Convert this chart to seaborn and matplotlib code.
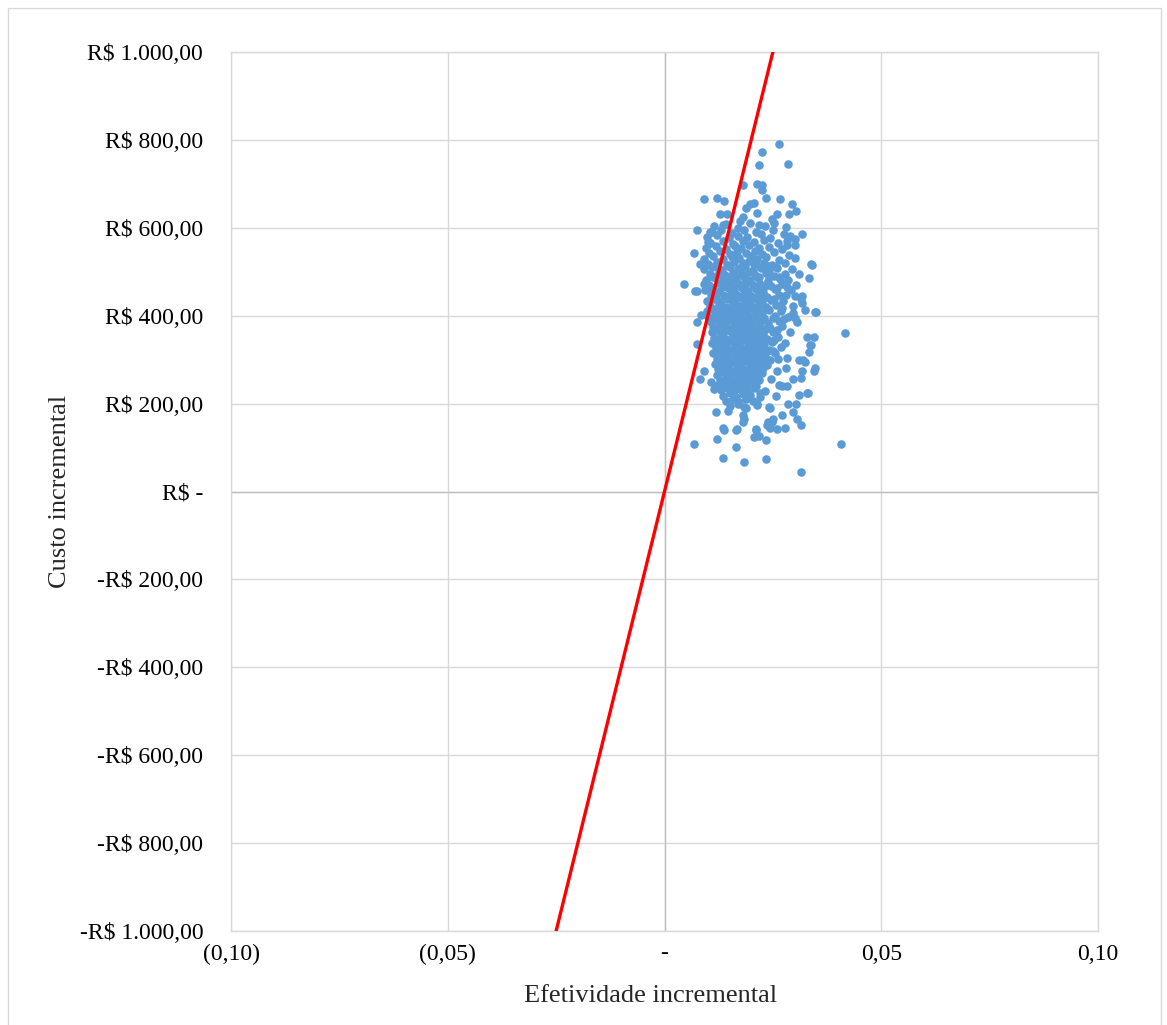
import numpy as np
import pandas as pd
import matplotlib
matplotlib.use("Agg")
import matplotlib.pyplot as plt
from matplotlib.patches import Rectangle
import seaborn as sns

# Simulated incremental pairs (effectiveness in QALY, cost in R$)
efetividade = [
    # core of the cloud
    0.0115, 0.0142, 0.0170, 0.0198, 0.0231,
    0.0109, 0.0130, 0.0156, 0.0184, 0.0212, 0.0250, 0.0276,
    0.0098, 0.0122, 0.0148, 0.0169, 0.0191, 0.0223, 0.0244, 0.0290,
    0.0106, 0.0135, 0.0159, 0.0180, 0.0206, 0.0230, 0.0261, 0.0283,
    0.0095, 0.0118, 0.0141, 0.0163, 0.0177, 0.0195, 0.0218, 0.0240, 0.0270,
    0.0103, 0.0127, 0.0150, 0.0168, 0.0188, 0.0209, 0.0226, 0.0253, 0.0288,
    0.0092, 0.0113, 0.0136, 0.0155, 0.0173, 0.0199, 0.0214, 0.0235, 0.0264, 0.0301,
    0.0100, 0.0121, 0.0144, 0.0161, 0.0181, 0.0194, 0.0210, 0.0229, 0.0248, 0.0277,
    0.0090, 0.0110, 0.0132, 0.0152, 0.0170, 0.0186, 0.0203, 0.0222, 0.0241, 0.0260, 0.0294,
    0.0105, 0.0125, 0.0140, 0.0158, 0.0176, 0.0192, 0.0208, 0.0233, 0.0252, 0.0279, 0.0310,
    0.0096, 0.0116, 0.0134, 0.0149, 0.0165, 0.0183, 0.0197, 0.0215, 0.0238, 0.0267, 0.0286,
    0.0102, 0.0123, 0.0139, 0.0153, 0.0171, 0.0189, 0.0204, 0.0221, 0.0245, 0.0272, 0.0303,
    0.0094, 0.0111, 0.0129, 0.0146, 0.0160, 0.0178, 0.0193, 0.0211, 0.0228, 0.0256, 0.0291,
    0.0108, 0.0120, 0.0137, 0.0154, 0.0167, 0.0185, 0.0200, 0.0217, 0.0236, 0.0263, 0.0280,
    0.0099, 0.0114, 0.0131, 0.0147, 0.0162, 0.0179, 0.0196, 0.0213, 0.0224, 0.0246, 0.0274, 0.0315,
    0.0104, 0.0126, 0.0143, 0.0157, 0.0174, 0.0187, 0.0202, 0.0219, 0.0234, 0.0258, 0.0296,
    0.0097, 0.0119, 0.0133, 0.0148, 0.0164, 0.0182, 0.0190, 0.0207, 0.0225, 0.0242, 0.0268,
    0.0101, 0.0117, 0.0138, 0.0151, 0.0166, 0.0175, 0.0195, 0.0212, 0.0230, 0.0254, 0.0284,
    0.0107, 0.0124, 0.0140, 0.0156, 0.0172, 0.0184, 0.0201, 0.0216, 0.0239, 0.0265, 0.0305,
    0.0112, 0.0128, 0.0145, 0.0160, 0.0177, 0.0191, 0.0205, 0.0220, 0.0243, 0.0271,
    0.0109, 0.0122, 0.0136, 0.0153, 0.0168, 0.0180, 0.0194, 0.0210, 0.0227, 0.0250, 0.0289,
    0.0115, 0.0130, 0.0142, 0.0159, 0.0173, 0.0188, 0.0203, 0.0218, 0.0237, 0.0262,
    0.0110, 0.0125, 0.0139, 0.0155, 0.0169, 0.0183, 0.0198, 0.0214, 0.0229, 0.0247, 0.0278,
    0.0118, 0.0133, 0.0147, 0.0163, 0.0176, 0.0192, 0.0206, 0.0223, 0.0240, 0.0269,
    0.0113, 0.0129, 0.0144, 0.0158, 0.0171, 0.0186, 0.0200, 0.0215, 0.0232, 0.0255,
    0.0121, 0.0135, 0.0150, 0.0165, 0.0179, 0.0195, 0.0211, 0.0226, 0.0244, 0.0282,
    0.0116, 0.0131, 0.0146, 0.0161, 0.0174, 0.0189, 0.0204, 0.0219, 0.0236,
    0.0124, 0.0138, 0.0152, 0.0167, 0.0181, 0.0197, 0.0213, 0.0228, 0.0259,
    0.0120, 0.0134, 0.0149, 0.0164, 0.0178, 0.0193, 0.0208, 0.0224,
    0.0127, 0.0141, 0.0156, 0.0170, 0.0185, 0.0201, 0.0217, 0.0246,
    0.0123, 0.0137, 0.0154, 0.0168, 0.0182, 0.0196, 0.0212,
    0.0130, 0.0145, 0.0160, 0.0175, 0.0190, 0.0207, 0.0231,
    0.0136, 0.0151, 0.0166, 0.0180, 0.0198, 0.0220,
    0.0143, 0.0158, 0.0173, 0.0187, 0.0205,
    0.0150, 0.0169, 0.0184, 0.0214,
    # densest band of the cloud
    0.0118, 0.0147, 0.0177, 0.0206, 0.0239, 0.0258,
    0.0112, 0.0130, 0.0163, 0.0180, 0.0218, 0.0240, 0.0263,
    0.0106, 0.0136, 0.0158, 0.0186, 0.0215, 0.0232, 0.0259, 0.0283,
    0.0119, 0.0140, 0.0159, 0.0182, 0.0207, 0.0230, 0.0252,
    0.0111, 0.0130, 0.0153, 0.0170, 0.0195, 0.0215, 0.0239, 0.0270,
    0.0115, 0.0132, 0.0148, 0.0169, 0.0188, 0.0206, 0.0226, 0.0250, 0.0276,
    0.0117, 0.0134, 0.0150, 0.0171, 0.0186, 0.0200, 0.0216, 0.0234, 0.0260,
    0.0120, 0.0135, 0.0151, 0.0164, 0.0180, 0.0196, 0.0212, 0.0226, 0.0253,
    0.0123, 0.0139, 0.0154, 0.0169, 0.0184, 0.0199, 0.0210, 0.0230, 0.0250,
    0.0125, 0.0141, 0.0157, 0.0170, 0.0185, 0.0200, 0.0217, 0.0233,
    0.0128, 0.0143, 0.0159, 0.0174, 0.0189, 0.0205, 0.0220,
    0.0132, 0.0148, 0.0163, 0.0178, 0.0193, 0.0209,
    # upper part of the cloud
    0.0263, 0.0224, 0.0219, 0.0286, 0.0214, 0.0226, 0.0224, 0.0182,
    0.0092, 0.0120, 0.0138, 0.0235, 0.0267, 0.0293, 0.0304, 0.0198,
    0.0207, 0.0189, 0.0127, 0.0145, 0.0180, 0.0214, 0.0260, 0.0288,
    0.0136, 0.0175, 0.0219, 0.0249, 0.0253, 0.0281, 0.0076, 0.0104,
    0.0067, 0.0044, 0.0341, 0.0334, 0.0318, 0.0074, 0.0083, 0.0090,
    0.0071, 0.0339, 0.0283, 0.0300, 0.0302, 0.0101, 0.0106,
    # right-hand side of the cloud
    0.0417, 0.0318, 0.0323, 0.0348, 0.0350, 0.0297, 0.0300, 0.0300,
    0.0318, 0.0334, 0.0336, 0.0339, 0.0329, 0.0346, 0.0320, 0.0311,
    0.0325, 0.0281, 0.0261, 0.0346, 0.0348, 0.0316, 0.0318, 0.0297,
    0.0283, 0.0272, 0.0263, 0.0329, 0.0311, 0.0332, 0.0258, 0.0221,
    # lower part of the cloud
    0.0115, 0.0074, 0.0085, 0.0076, 0.0081, 0.0092, 0.0108,
    0.0408, 0.0067, 0.0134, 0.0184, 0.0235, 0.0316, 0.0118, 0.0120,
    0.0166, 0.0136, 0.0138, 0.0164, 0.0168, 0.0210, 0.0212, 0.0207,
    0.0217, 0.0235, 0.0237, 0.0244, 0.0251, 0.0260, 0.0279, 0.0272,
    0.0306, 0.0316, 0.0297, 0.0286, 0.0304, 0.0242, 0.0244, 0.0214,
    0.0180, 0.0184, 0.0180, 0.0147, 0.0187, 0.0238, 0.0249,
]

custo = [
    603, 608, 600, 610, 604,
    590, 595, 588, 596, 591, 594, 587,
    578, 583, 576, 582, 579, 585, 577, 581,
    566, 571, 564, 570, 567, 572, 565, 569,
    554, 559, 552, 558, 555, 560, 553, 557, 551,
    542, 547, 540, 546, 543, 548, 541, 545, 539,
    530, 535, 528, 534, 531, 536, 529, 533, 527, 532,
    518, 523, 516, 522, 519, 524, 517, 521, 515, 520,
    506, 511, 504, 510, 507, 512, 505, 509, 503, 508, 506,
    494, 499, 492, 498, 495, 500, 493, 497, 491, 496, 494,
    482, 487, 480, 486, 483, 488, 481, 485, 479, 484, 482,
    470, 475, 468, 474, 471, 476, 469, 473, 467, 472, 470,
    458, 463, 456, 462, 459, 464, 457, 461, 455, 460, 458,
    446, 451, 444, 450, 447, 452, 445, 449, 443, 448, 446,
    434, 439, 432, 438, 435, 440, 433, 437, 431, 436, 434, 439,
    422, 427, 420, 426, 423, 428, 421, 425, 419, 424, 422,
    410, 415, 408, 414, 411, 416, 409, 413, 407, 412, 410,
    398, 403, 396, 402, 399, 404, 397, 401, 395, 400, 398,
    386, 391, 384, 390, 387, 392, 385, 389, 383, 388, 386,
    374, 379, 372, 378, 375, 380, 373, 377, 371, 376,
    362, 367, 360, 366, 363, 368, 361, 365, 359, 364, 362,
    350, 355, 348, 354, 351, 356, 349, 353, 347, 352,
    338, 343, 336, 342, 339, 344, 337, 341, 335, 340, 338,
    326, 331, 324, 330, 327, 332, 325, 329, 323, 328,
    314, 319, 312, 318, 315, 320, 313, 317, 311, 316,
    302, 307, 300, 306, 303, 308, 301, 305, 299, 304,
    290, 295, 288, 294, 291, 296, 289, 293, 287,
    278, 283, 276, 282, 279, 284, 277, 281, 275,
    266, 271, 264, 270, 267, 272, 265, 269,
    254, 259, 252, 258, 255, 260, 253, 257,
    242, 247, 240, 246, 243, 248, 241,
    230, 235, 228, 234, 231, 236, 229,
    218, 223, 216, 222, 219, 224,
    206, 211, 204, 210, 207,
    194, 199, 192, 197,
    # densest band
    512, 516, 510, 517, 513, 511,
    488, 492, 486, 493, 489, 491, 487,
    464, 468, 462, 469, 465, 467, 463, 466,
    440, 444, 438, 445, 441, 443, 439,
    416, 420, 414, 421, 417, 419, 415, 418,
    392, 396, 390, 397, 393, 395, 391, 394, 392,
    368, 372, 366, 373, 369, 371, 367, 370, 368,
    344, 348, 342, 349, 345, 347, 343, 346, 344,
    320, 324, 318, 325, 321, 323, 319, 322, 320,
    296, 300, 294, 301, 297, 299, 295, 298,
    272, 276, 270, 277, 273, 275, 271,
    248, 252, 246, 253, 249, 251,
    # upper part
    791, 773, 743, 745, 700, 698, 686, 698,
    666, 668, 661, 668, 666, 654, 639, 654,
    657, 645, 632, 632, 625, 634, 632, 632,
    607, 616, 607, 620, 611, 602, 595, 591,
    543, 473, 516, 486, 586, 457, 518, 473,
    457, 518, 561, 561, 575, 568, 566,
    # right-hand side
    361, 430, 414, 409, 409, 407, 395, 445,
    445, 318, 334, 334, 352, 352, 300, 300,
    295, 282, 302, 275, 282, 259, 275, 255,
    239, 241, 243, 225, 220, 225, 218, 214,
    # lower part
    234, 386, 402, 336, 257, 275, 250,
    107, 107, 77, 66, 75, 45, 180, 120,
    102, 145, 141, 139, 143, 143, 141, 123,
    127, 118, 152, 145, 164, 143, 145, 175,
    164, 152, 182, 198, 198, 193, 189, 198,
    173, 166, 159, 184, 189, 157, 159,
]

# Willingness-to-pay threshold line (R$ per QALY)
limiar_efetividade = [-0.025, 0.025]
limiar_custo = [-1000, 1000]

y_ticks = [1000, 800, 600, 400, 200, 0, -200, -400, -600, -800, -1000]
y_tick_labels = ["R$ 1.000,00", "R$ 800,00", "R$ 600,00", "R$ 400,00", "R$ 200,00",
                 "R$ -", "-R$ 200,00", "-R$ 400,00", "-R$ 600,00", "-R$ 800,00",
                 "-R$ 1.000,00"]
x_ticks = [-0.10, -0.05, 0.0, 0.05, 0.10]
x_tick_labels = ["(0,10)", "(0,05)", "-", "0,05", "0,10"]

pontos = pd.DataFrame({"efetividade": efetividade, "custo": custo})
limiar = pd.DataFrame({"efetividade": limiar_efetividade, "custo": limiar_custo})

sns.set_style("white")
plt.rcParams["font.family"] = ["Liberation Serif", "DejaVu Serif"]

fig = plt.figure(figsize=(11.67, 10.25), dpi=100)
fig.patches.append(Rectangle((8 / 1167, -0.05), (1161 - 8) / 1167, 1.05 - 8 / 1025,
                             transform=fig.transFigure, fill=False,
                             edgecolor="#d9d9d9", linewidth=1.0))
ax = fig.add_axes([231 / 1167, 1 - 931 / 1025, 867 / 1167, 879 / 1025])

grid_color = "#d9d9d9"
ax.set_xlim(-0.10, 0.10)
ax.set_ylim(-1000, 1000)
ax.set_xticks(x_ticks)
ax.set_xticklabels(x_tick_labels)
ax.set_yticks(y_ticks)
ax.set_yticklabels(y_tick_labels)
ax.grid(True, color=grid_color, linewidth=1.0, zorder=0)
ax.set_axisbelow(True)
for side in ax.spines.values():
    side.set_color(grid_color)
    side.set_linewidth(1.0)
ax.axhline(0, color="#bfbfbf", linewidth=1.0, zorder=1)
ax.axvline(0, color="#bfbfbf", linewidth=1.0, zorder=1)

sns.scatterplot(data=pontos, x="efetividade", y="custo", ax=ax, color="#5b9bd5",
                s=38, linewidth=0, zorder=3, legend=False)
sns.lineplot(data=limiar, x="efetividade", y="custo", ax=ax, color="#ff0000",
             linewidth=2.4, zorder=4, legend=False)

ax.tick_params(axis="both", length=0, labelsize=17, colors="black")
ax.tick_params(axis="y", pad=20)
ax.tick_params(axis="x", pad=9)
ax.set_xlabel("Efetividade incremental", fontsize=19)
ax.set_ylabel("Custo incremental", fontsize=19)
ax.xaxis.set_label_coords(0.484, -0.062)
ax.yaxis.set_label_coords(-0.185, 0.5)

fig.savefig("out.png", dpi=100)
